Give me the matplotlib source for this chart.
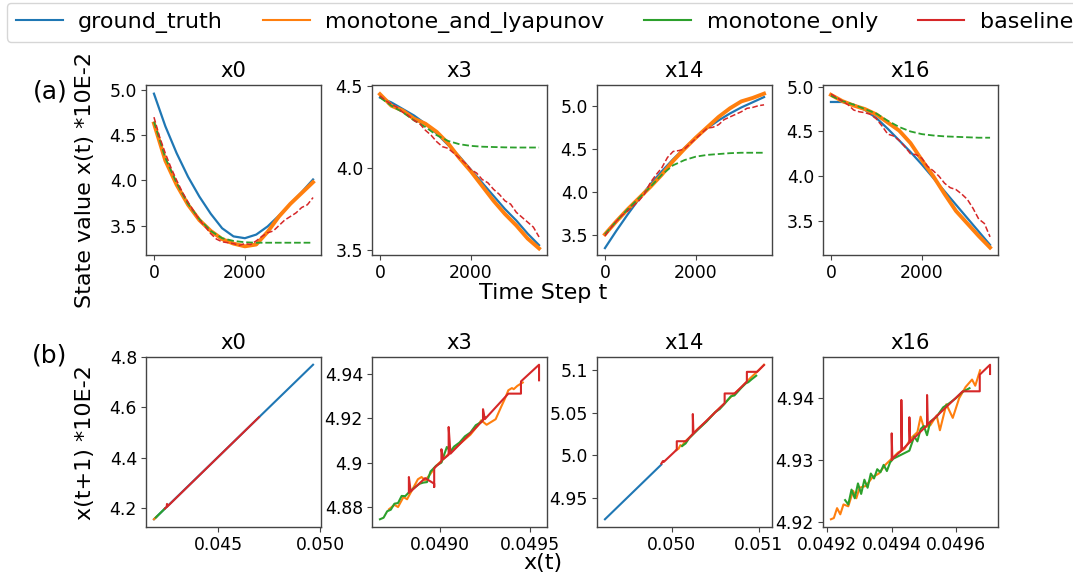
import matplotlib
matplotlib.use("Agg")
import matplotlib.pyplot as plt
from matplotlib.lines import Line2D
from matplotlib.ticker import FixedLocator, FixedFormatter

# ---------------- data ----------------
series_names = ["ground_truth", "monotone_and_lyapunov", "monotone_only", "baseline"]
colors = ["#1f77b4", "#ff7f0e", "#2ca02c", "#d62728"]
panel_titles = ["x0", "x3", "x14", "x16"]

# top row: time series (values *1e-2)
t_coarse = [0, 250, 500, 750, 1000, 1250, 1500, 1750, 2000, 2250, 2500, 2750, 3000, 3250, 3500]
t_fine = [0, 125, 250, 375, 500, 625, 750, 875, 1000, 1125, 1250, 1375, 1500, 1625, 1750,
          1875, 2000, 2125, 2250, 2375, 2500, 2625, 2750, 2875, 3000, 3125, 3250, 3375, 3500]

gt_x0 = [4.96, 4.60, 4.30, 4.04, 3.82, 3.63, 3.47, 3.38, 3.36, 3.40, 3.49, 3.61, 3.74, 3.87, 4.01]
ml_x0 = [4.63, 4.22, 3.95, 3.73, 3.56, 3.44, 3.35, 3.30, 3.27, 3.29, 3.43, 3.60, 3.74, 3.86, 3.98]
mo_x0 = [4.65, 4.25, 3.97, 3.74, 3.57, 3.44, 3.36, 3.33, 3.315, 3.31, 3.31, 3.31, 3.31, 3.31, 3.31]
bl_x0 = [4.70, 4.48, 4.30, 4.14, 4.00, 3.87, 3.76, 3.66, 3.56, 3.49, 3.41, 3.35, 3.32, 3.31, 3.30,
         3.28, 3.30, 3.29, 3.33, 3.38, 3.42, 3.44, 3.50, 3.56, 3.60, 3.64, 3.70, 3.73, 3.81]

gt_x3 = [4.43, 4.40, 4.36, 4.32, 4.27, 4.21, 4.14, 4.07, 3.99, 3.91, 3.83, 3.75, 3.68, 3.60, 3.53]
ml_x3 = [4.45, 4.38, 4.35, 4.30, 4.27, 4.22, 4.15, 4.06, 3.98, 3.89, 3.80, 3.72, 3.65, 3.57, 3.51]
mo_x3 = [4.43, 4.38, 4.34, 4.29, 4.25, 4.20, 4.165, 4.145, 4.135, 4.13, 4.128, 4.126, 4.125, 4.125, 4.125]
bl_x3 = [4.44, 4.41, 4.39, 4.37, 4.34, 4.32, 4.29, 4.27, 4.23, 4.20, 4.16, 4.13, 4.12, 4.09, 4.06,
         4.03, 3.99, 3.97, 3.93, 3.91, 3.87, 3.84, 3.80, 3.78, 3.73, 3.70, 3.67, 3.64, 3.58]

gt_x14 = [3.35, 3.55, 3.74, 3.92, 4.09, 4.24, 4.38, 4.51, 4.63, 4.74, 4.83, 4.91, 4.98, 5.04, 5.10]
ml_x14 = [3.51, 3.66, 3.80, 3.93, 4.06, 4.20, 4.36, 4.50, 4.63, 4.75, 4.87, 4.97, 5.05, 5.09, 5.14]
mo_x14 = [3.51, 3.66, 3.80, 3.93, 4.06, 4.20, 4.31, 4.37, 4.41, 4.43, 4.44, 4.45, 4.455, 4.455, 4.455]
bl_x14 = [3.49, 3.58, 3.66, 3.73, 3.78, 3.84, 3.90, 3.98, 4.11, 4.20, 4.28, 4.40, 4.47, 4.48, 4.50,
          4.56, 4.62, 4.68, 4.74, 4.75, 4.78, 4.84, 4.87, 4.90, 4.93, 4.97, 4.98, 5.00, 5.01]

gt_x16 = [4.83, 4.83, 4.80, 4.74, 4.65, 4.53, 4.40, 4.27, 4.13, 3.98, 3.83, 3.68, 3.53, 3.38, 3.23]
ml_x16 = [4.91, 4.84, 4.79, 4.75, 4.69, 4.60, 4.51, 4.37, 4.18, 4.00, 3.80, 3.61, 3.47, 3.33, 3.20]
mo_x16 = [4.90, 4.84, 4.80, 4.75, 4.70, 4.62, 4.55, 4.50, 4.47, 4.455, 4.445, 4.44, 4.435, 4.43, 4.43]
bl_x16 = [4.92, 4.88, 4.84, 4.80, 4.74, 4.72, 4.71, 4.69, 4.64, 4.56, 4.47, 4.45, 4.40, 4.33, 4.25,
          4.24, 4.20, 4.11, 4.06, 4.00, 3.92, 3.87, 3.85, 3.80, 3.74, 3.64, 3.52, 3.47, 3.32]

top_gt = [gt_x0, gt_x3, gt_x14, gt_x16]
top_ml = [ml_x0, ml_x3, ml_x14, ml_x16]
top_mo = [mo_x0, mo_x3, mo_x14, mo_x16]
top_bl = [bl_x0, bl_x3, bl_x14, bl_x16]

top_xticks = [0, 2000]
top_xticklabels = ["0", "2000"]
top_yticks = [[3.5, 4.0, 4.5, 5.0], [3.5, 4.0, 4.5], [3.5, 4.0, 4.5, 5.0], [3.5, 4.0, 4.5, 5.0]]
top_yticklabels = [["3.5", "4.0", "4.5", "5.0"], ["3.5", "4.0", "4.5"],
                   ["3.5", "4.0", "4.5", "5.0"], ["3.5", "4.0", "4.5", "5.0"]]
top_ylims = [(3.174, 5.056), (3.47, 4.506), (3.27, 5.24), (3.117, 5.02)]

# bottom row: x(t) vs x(t+1) (*1e-2)
b0_gt_x = [0.04186, 0.04965]
b0_gt_y = [4.155, 4.770]
b0_ml_x = [0.04186, 0.04200]
b0_ml_y = [4.155, 4.166]
b0_mo_x = [0.04195, 0.04240]
b0_mo_y = [4.162, 4.198]
b0_bl_x = [0.04240, 0.04248, 0.04250, 0.04252, 0.04700]
b0_bl_y = [4.198, 4.204, 4.216, 4.206, 4.561]

b3_ml_x = [0.04872, 0.04875, 0.04877, 0.04880, 0.04882, 0.04885, 0.04888, 0.04890, 0.04892, 0.04895,
           0.04898, 0.04902, 0.04907, 0.04912, 0.04917, 0.04921, 0.04923, 0.04926, 0.04931, 0.04934,
           0.04936, 0.04938, 0.04940, 0.04941, 0.04943, 0.04946]
b3_ml_y = [4.8790, 4.8810, 4.8800, 4.8845, 4.8835, 4.8880, 4.8925, 4.8935, 4.8920, 4.8950,
           4.8985, 4.9015, 4.9055, 4.9090, 4.9125, 4.9165, 4.9190, 4.9170, 4.9195, 4.9250,
           4.9285, 4.9325, 4.9335, 4.9330, 4.9345, 4.9360]
b3_mo_x = [0.04867, 0.04869, 0.04871, 0.04873, 0.04875, 0.04877, 0.04879, 0.04881, 0.04883, 0.04885,
           0.04887, 0.04889, 0.04891, 0.04893, 0.04895, 0.04898, 0.04901, 0.04904, 0.04906, 0.04908,
           0.04911, 0.04914, 0.04917, 0.04920, 0.04923, 0.04925]
b3_mo_y = [4.8745, 4.8752, 4.8781, 4.8788, 4.8815, 4.8818, 4.8850, 4.8849, 4.8866, 4.8880,
           4.8893, 4.8905, 4.8910, 4.8912, 4.8960, 4.8985, 4.9000, 4.9070, 4.9050, 4.9072,
           4.9090, 4.9118, 4.9135, 4.9168, 4.9182, 4.9205]
b3_bl_x = [0.04883, 0.04883, 0.04884, 0.04892, 0.04897, 0.04897, 0.04897, 0.04901, 0.04901, 0.04902,
           0.04905, 0.04905, 0.04906, 0.04924, 0.04924, 0.04925, 0.04938, 0.04945, 0.04945, 0.04955,
           0.04955]
b3_bl_y = [4.8865, 4.8935, 4.8870, 4.8930, 4.8905, 4.8890, 4.8975, 4.9005, 4.9060, 4.9015,
           4.9035, 4.9160, 4.9040, 4.9190, 4.9240, 4.9195, 4.9310, 4.9310, 4.9365, 4.9440,
           4.9370]

b14_gt_x = [0.049235, 0.049882]
b14_gt_y = [4.9256, 4.9894]
b14_ml_x = [0.05005, 0.05008, 0.05010, 0.05012, 0.05015, 0.05020, 0.05030, 0.05040, 0.05050, 0.05060,
            0.05070, 0.05080, 0.05090, 0.05100, 0.05106]
b14_ml_y = [5.0060, 5.0080, 5.0120, 5.0110, 5.0160, 5.0205, 5.0310, 5.0400, 5.0505, 5.0600,
            5.0705, 5.0795, 5.0900, 5.0995, 5.1058]
b14_mo_x = [0.05012, 0.05016, 0.05020, 0.05030, 0.05040, 0.05050, 0.05055, 0.05060, 0.05068, 0.05072,
            0.05080, 0.05085, 0.05088, 0.05092, 0.05097]
b14_mo_y = [5.0110, 5.0140, 5.0200, 5.0300, 5.0395, 5.0505, 5.0540, 5.0595, 5.0690, 5.0700,
            5.0790, 5.0840, 5.0855, 5.0890, 5.0930]
b14_bl_x = [0.049882, 0.049900, 0.049910, 0.050059, 0.050059, 0.050165, 0.050243, 0.050243, 0.050250,
            0.050608, 0.050608, 0.050725, 0.050863, 0.050863, 0.050980, 0.051059]
b14_bl_y = [4.9905, 4.9935, 4.9925, 5.0068, 5.0166, 5.0166, 5.0250, 5.0483, 5.0257,
            5.0610, 5.0723, 5.0723, 5.0861, 5.0975, 5.0975, 5.1054]

b16_ml_x = [0.049211, 0.049220, 0.049230, 0.049240, 0.049250, 0.049265, 0.049280, 0.049290, 0.049300,
            0.049320, 0.049340, 0.049360, 0.049380, 0.049400, 0.049420, 0.049440, 0.049460, 0.049480,
            0.049490, 0.049500, 0.049520, 0.049540, 0.049550, 0.049570, 0.049590, 0.049610, 0.049630,
            0.049650, 0.049660, 0.049675]
b16_ml_y = [4.9204, 4.9206, 4.9222, 4.9212, 4.9228, 4.9225, 4.9250, 4.9238, 4.9255,
            4.9258, 4.9272, 4.9278, 4.9292, 4.9302, 4.9312, 4.9318, 4.9335, 4.9345,
            4.9370, 4.9352, 4.9356, 4.9372, 4.9348, 4.9390, 4.9368, 4.9400, 4.9418,
            4.9430, 4.9420, 4.9445]
b16_mo_x = [0.049255, 0.049265, 0.049275, 0.049285, 0.049295, 0.049305, 0.049315, 0.049325, 0.049335,
            0.049345, 0.049355, 0.049365, 0.049375, 0.049385, 0.049395, 0.049405, 0.049455, 0.049470,
            0.049480, 0.049490, 0.049500, 0.049510, 0.049520, 0.049540, 0.049560, 0.049580, 0.049600,
            0.049620, 0.049642]
b16_mo_y = [4.9235, 4.9228, 4.9252, 4.9238, 4.9262, 4.9245, 4.9268, 4.9255, 4.9278,
            4.9270, 4.9285, 4.9280, 4.9292, 4.9282, 4.9296, 4.9302, 4.9315, 4.9338,
            4.9330, 4.9350, 4.9355, 4.9340, 4.9362, 4.9370, 4.9385, 4.9392, 4.9400,
            4.9410, 4.9416]
b16_bl_x = [0.049400, 0.049400, 0.049402, 0.049430, 0.049430, 0.049432, 0.049455, 0.049455, 0.049457,
            0.049510, 0.049510, 0.049512, 0.049621, 0.049674, 0.049674, 0.049706, 0.049706]
b16_bl_y = [4.9300, 4.9343, 4.9302, 4.9315, 4.9397, 4.9316, 4.9328, 4.9369, 4.9329,
            4.9356, 4.9405, 4.9357, 4.9411, 4.9411, 4.9438, 4.9454, 4.9439]

bottom_series = [
    [(b0_gt_x, b0_gt_y, 0), (b0_ml_x, b0_ml_y, 1), (b0_mo_x, b0_mo_y, 2), (b0_bl_x, b0_bl_y, 3)],
    [(b3_ml_x, b3_ml_y, 1), (b3_mo_x, b3_mo_y, 2), (b3_bl_x, b3_bl_y, 3)],
    [(b14_gt_x, b14_gt_y, 0), (b14_ml_x, b14_ml_y, 1), (b14_mo_x, b14_mo_y, 2), (b14_bl_x, b14_bl_y, 3)],
    [(b16_ml_x, b16_ml_y, 1), (b16_mo_x, b16_mo_y, 2), (b16_bl_x, b16_bl_y, 3)],
]
bottom_xticks = [[0.045, 0.050], [0.0490, 0.0495], [0.050, 0.051], [0.0492, 0.0494, 0.0496]]
bottom_xticklabels = [["0.045", "0.050"], ["0.0490", "0.0495"], ["0.050", "0.051"],
                      ["0.0492", "0.0494", "0.0496"]]
bottom_yticks = [[4.2, 4.4, 4.6, 4.8], [4.88, 4.90, 4.92, 4.94], [4.95, 5.0, 5.05, 5.1], [4.92, 4.93, 4.94]]
bottom_yticklabels = [["4.2", "4.4", "4.6", "4.8"], ["4.88", "4.9", "4.92", "4.94"],
                      ["4.95", "5.0", "5.05", "5.1"], ["4.92", "4.93", "4.94"]]

# ---------------- figure ----------------
W, H = 1073, 577
fig = plt.figure(figsize=(W / 100, H / 100), dpi=100)

lefts = [146, 372, 597, 823]
AW = 175
TICK_FS = 12.4
TITLE_FS = 15.2


def rect(left, top, bottom):
    return [left / W, 1 - bottom / H, AW / W, (bottom - top) / H]


def style(ax):
    for s in ax.spines.values():
        s.set_color("#444444")
        s.set_linewidth(1.0)
    ax.tick_params(labelsize=TICK_FS, length=3.5, width=0.8, color="#444444", pad=3)


for i in range(4):
    ax = fig.add_axes(rect(lefts[i], 85, 255))
    ax.plot(t_coarse, top_gt[i], color=colors[0], lw=1.6)
    ax.plot(t_coarse, top_ml[i], color=colors[1], lw=2.8)
    ax.plot(t_coarse, top_mo[i], color=colors[2], lw=1.3, ls="--")
    ax.plot(t_fine, top_bl[i], color=colors[3], lw=1.1, ls="--")
    ax.set_ylim(*top_ylims[i])
    ax.xaxis.set_major_locator(FixedLocator(top_xticks))
    ax.xaxis.set_major_formatter(FixedFormatter(top_xticklabels))
    ax.yaxis.set_major_locator(FixedLocator(top_yticks[i]))
    ax.yaxis.set_major_formatter(FixedFormatter(top_yticklabels[i]))
    ax.set_title(panel_titles[i], fontsize=TITLE_FS, pad=6)
    style(ax)

for i in range(4):
    ax = fig.add_axes(rect(lefts[i], 357, 527))
    for xs, ys, k in bottom_series[i]:
        ax.plot(xs, ys, color=colors[k], lw=1.5)
    ax.xaxis.set_major_locator(FixedLocator(bottom_xticks[i]))
    ax.xaxis.set_major_formatter(FixedFormatter(bottom_xticklabels[i]))
    ax.yaxis.set_major_locator(FixedLocator(bottom_yticks[i]))
    ax.yaxis.set_major_formatter(FixedFormatter(bottom_yticklabels[i]))
    ax.set_title(panel_titles[i], fontsize=TITLE_FS, pad=6)
    style(ax)

# labels
fig.text(85 / W, 1 - 180 / H, "State value x(t) *10E-2", rotation=90, fontsize=16,
         ha="center", va="center")
fig.text(85 / W, 1 - 443 / H, "x(t+1) *10E-2", rotation=90, fontsize=16,
         ha="center", va="center")
fig.text(543 / W, 1 - 293 / H, "Time Step t", fontsize=16, ha="center", va="center")
fig.text(543 / W, 1 - 563 / H, "x(t)", fontsize=16, ha="center", va="center")
fig.text(50 / W, 1 - 91 / H, "(a)", fontsize=18, ha="center", va="center")
fig.text(50 / W, 1 - 355 / H, "(b)", fontsize=18, ha="center", va="center")

handles = [Line2D([], [], color=c, lw=1.5) for c in colors]
fig.legend(handles, series_names, loc="upper left", bbox_to_anchor=(7 / W, 1 - 3 / H),
           ncol=4, fontsize=16, borderaxespad=0, handlelength=2.1, columnspacing=1.8,
           handletextpad=0.7)

fig.savefig("out.png", dpi=100)
